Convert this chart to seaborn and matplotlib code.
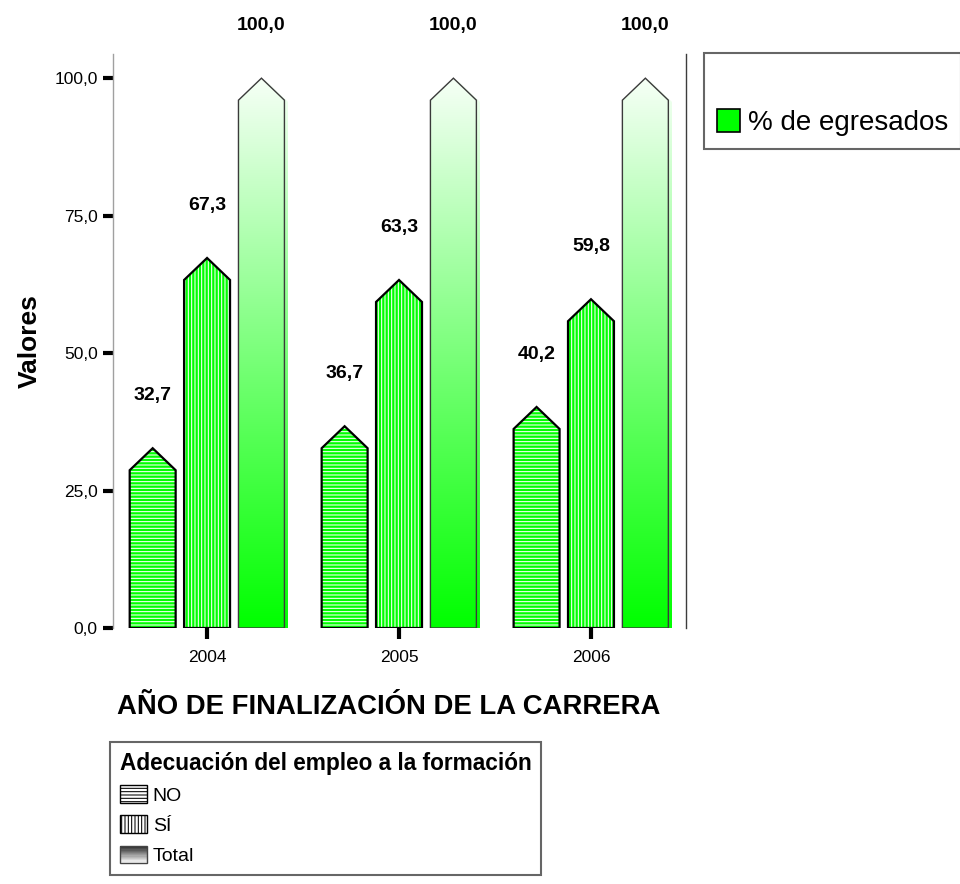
import numpy as np
import pandas as pd
import seaborn as sns
import matplotlib.pyplot as plt
from matplotlib.patches import Polygon, Patch, Rectangle
from matplotlib.colors import LinearSegmentedColormap
from matplotlib.legend_handler import HandlerBase

# datos del grafico
anios = ['2004', '2005', '2006']
grupos = ['NO', 'SÍ', 'Total']
val_no = [32.7, 36.7, 40.2]
val_si = [67.3, 63.3, 59.8]
val_total = [100.0, 100.0, 100.0]
y_ticks = [0, 25, 50, 75, 100]
y_tick_labels = ['0,0', '25,0', '50,0', '75,0', '100,0']

df = pd.DataFrame({
    'anio': anios * 3,
    'grupo': ['NO'] * 3 + ['SÍ'] * 3 + ['Total'] * 3,
    'valor': val_no + val_si + val_total,
})

sns.set_style('white')
plt.rcParams['font.family'] = ['Liberation Sans', 'DejaVu Sans']
plt.rcParams['hatch.linewidth'] = 0.75
for k in ['text.color', 'axes.labelcolor', 'xtick.color', 'ytick.color']:
    plt.rcParams[k] = 'black'

verde = '#00ff00'
punta = 4.0  # alto de la punta de flecha

fig = plt.figure(figsize=(9.6, 8.84), dpi=100)
ax = fig.add_axes([113 / 960, 1 - 628 / 884, 573 / 960, 574 / 884])

sns.barplot(data=df, x='anio', y='valor', hue='grupo', hue_order=grupos,
            width=0.85, gap=0.155, errorbar=None, legend=False, ax=ax)

grad = LinearSegmentedColormap.from_list('g', [verde, '#f6fff6'])
img = np.linspace(0, 1, 256).reshape(-1, 1)

for cont, grupo in zip(ax.containers, grupos):
    for bar in cont:
        x0, w, h = bar.get_x(), bar.get_width(), bar.get_height()
        bar.set_visible(False)
        verts = [(x0, 0), (x0, h - punta), (x0 + w / 2, h), (x0 + w, h - punta), (x0 + w, 0)]
        if grupo == 'Total':
            dx, dy = 0.02, -0.35
            sombra = Polygon([(a + dx, b + dy) for a, b in verts], closed=True,
                             facecolor='none', edgecolor='none')
            ax.add_patch(sombra)
            im = ax.imshow(img, cmap=grad, origin='lower', aspect='auto',
                           extent=(x0 + dx, x0 + w + dx, dy, h + dy), zorder=2)
            im.set_clip_path(sombra)
            cuerpo = Polygon(verts, closed=True, facecolor='none',
                             edgecolor='#3a3a3a', lw=1.0, zorder=4)
            ax.add_patch(cuerpo)
            im2 = ax.imshow(img, cmap=grad, origin='lower', aspect='auto',
                            extent=(x0, x0 + w, 0, h), zorder=3)
            im2.set_clip_path(cuerpo)
        else:
            rayado = '-----' if grupo == 'NO' else '|||||'
            ax.add_patch(Polygon(verts, closed=True, facecolor=verde, edgecolor='white',
                                 hatch=rayado, lw=0, zorder=3))
            ax.add_patch(Polygon(verts, closed=True, facecolor='none',
                                 edgecolor='black', lw=1.6, zorder=4))
        ax.text(x0 + w / 2, h + 9.5, f'{h:.1f}'.replace('.', ','), ha='center',
                va='center', fontsize=14, fontweight='bold', clip_on=False)

ax.set_xlim(-0.49, 2.495)
ax.set_ylim(0, 104.4)
ax.set_yticks(y_ticks)
ax.set_yticklabels(y_tick_labels, fontsize=12.5)
ax.tick_params(axis='y', direction='out', length=7.5, width=3, pad=3.5, color='black', left=True)
ax.tick_params(axis='x', direction='out', length=8, width=3, pad=8, color='black',
               bottom=True, labelsize=12.5)

for s in ['top', 'bottom']:
    ax.spines[s].set_visible(False)
ax.spines['left'].set_color('#a0a0a0')
ax.spines['left'].set_linewidth(1)
ax.spines['right'].set_visible(True)
ax.spines['right'].set_color('#3c3c3c')
ax.spines['right'].set_linewidth(1)

ax.set_xlabel('AÑO DE FINALIZACIÓN DE LA CARRERA', fontsize=19.8, fontweight='bold')
ax.set_ylabel('Valores', fontsize=19, fontweight='bold')
ax.xaxis.set_label_coords(0.482, -0.115)
ax.yaxis.set_label_coords(-0.125, 0.5)


class GradientHandler(HandlerBase):
    def create_artists(self, legend, orig_handle, xdescent, ydescent, width, height, fontsize, trans):
        arts = []
        n = 14
        for i in range(n):
            g = 0.97 - 0.8 * i / (n - 1)
            arts.append(Rectangle((-xdescent, -ydescent + height * i / n), width, height / n,
                                  facecolor=(g, g, g), edgecolor='none', transform=trans))
        arts.append(Rectangle((-xdescent, -ydescent), width, height, facecolor='none',
                              edgecolor='#444444', lw=1, transform=trans))
        return arts


h_no = Patch(facecolor='white', edgecolor='black', hatch='-----', label='NO')
h_si = Patch(facecolor='white', edgecolor='black', hatch='|||||', label='SÍ')
h_tot = Patch(facecolor='gray', label='Total')
leg = fig.legend(handles=[h_no, h_si, h_tot], handler_map={h_tot: GradientHandler()},
                 loc='upper left', bbox_to_anchor=(110 / 960, 1 - 742 / 884),
                 title='Adecuación del empleo a la formación',
                 title_fontproperties={'size': 16.3, 'weight': 'bold'},
                 fontsize=14, alignment='left', frameon=True, fancybox=False,
                 edgecolor='#666666', framealpha=1, handlelength=1.4, handleheight=1.0,
                 handletextpad=0.3, labelspacing=0.55, borderpad=0.5, borderaxespad=0)
leg.get_frame().set_linewidth(1.5)

h_eg = Patch(facecolor=verde, edgecolor='black', lw=1.2, label='% de egresados')
leg2 = fig.legend(handles=[h_eg], loc='upper left', bbox_to_anchor=(704 / 960, 1 - 53 / 884),
                  title=' ', title_fontsize=22, fontsize=20, frameon=True, fancybox=False,
                  edgecolor='#666666', framealpha=1, handlelength=0.85, handleheight=0.85,
                  handletextpad=0.3, borderpad=0.45, borderaxespad=0)
leg2.get_frame().set_linewidth(1.5)

fig.savefig('out.png', dpi=100)
